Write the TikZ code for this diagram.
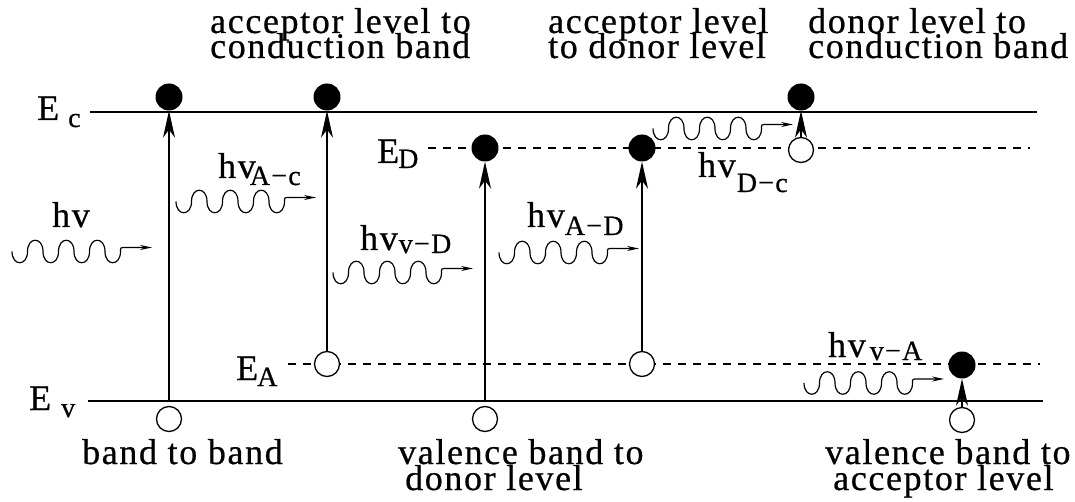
\documentclass[tikz,border=0pt]{standalone}
\usepackage{fontspec}
\setmainfont[LetterSpace=4.5,FakeBold=0.6]{Liberation Serif}
\usetikzlibrary{arrows.meta}
\newcommand\subsz{\fontsize{28}{28}\selectfont}
\newcommand\twoline[3]{\vtop{\baselineskip=#1\lineskiplimit=-60pt\lineskip=0pt\hbox{#2}\hbox{#3}}}
\newcommand\hvl[3]{hv\kern#1pt\raisebox{-#2pt}{\subsz #3}}
\newcommand\elv[3]{E\kern#1pt\raisebox{-#2pt}{\subsz #3}}
\tikzset{
  lbl/.style={inner sep=0pt, anchor=base west, font=\fontsize{36}{36}\selectfont},
  band/.style={line width=1.6pt},
  level/.style={line width=1.4pt, dash pattern=on 8pt off 7pt},
  fdot/.style={circle, fill=black, minimum size=27pt, inner sep=0pt},
  odot/.style={circle, draw=black, fill=white, line width=1.3pt, minimum size=25pt, inner sep=0pt},
  trans/.style={line width=1.2pt, -{Stealth[length=27pt,width=12pt,inset=8pt]}},
  photon/.pic={\draw[line width=1.2pt, -{Stealth[length=12pt,width=5pt]}]
    (0,0) .. controls (0,15) and (15.5,15) .. (15.5,0)
    .. controls (15.5,-15) and (31,-15) .. (31,0)
    .. controls (31,15) and (46.5,15) .. (46.5,0)
    .. controls (46.5,-15) and (62,-15) .. (62,0)
    .. controls (62,15) and (77.5,15) .. (77.5,0)
    .. controls (77.5,-15) and (93,-15) .. (93,0)
    .. controls (93,15) and (108.5,15) .. (108.5,0)
    .. controls (108.5,-4) .. (113.5,-4) -- (140,-4);}
}
\begin{document}
\begin{tikzpicture}[x=1pt,y=-1pt]
\useasboundingbox (0,0) rectangle (1075,502);
% bands and levels
\coordinate (ecl) at (90,112); \coordinate (ecr) at (1037,112);
\coordinate (evl) at (88,401); \coordinate (evr) at (1043,401);
\coordinate (edl) at (428,148); \coordinate (edr) at (1030,148);
\coordinate (eal) at (288,364); \coordinate (ear) at (1040,364);
\draw[band] (ecl) -- (ecr);
\draw[band] (evl) -- (evr);
\draw[level] (edl) -- (edr);
\draw[level] (eal) -- (ear);
% level labels
\node[lbl] (ec) at (37,120) {\elv{9}{7}{c}};
\node[lbl] (ev) at (29,410) {\elv{10}{7}{v}};
\node[lbl] (ed) at (377,163) {\elv{-1}{5}{D}};
\node[lbl] (ea) at (236,380) {\elv{-1}{6}{A}};
% carriers
\node[fdot] (f1) at (169,97) {}; \node[odot] (o1) at (169,419) {};
\node[fdot] (f2) at (327,97) {}; \node[odot] (o2) at (327,364) {};
\node[fdot] (f3) at (485,148) {}; \node[odot] (o3) at (485,419) {};
\node[fdot] (f4) at (642,148) {}; \node[odot] (o4) at (642,364) {};
\node[fdot] (f5) at (801,97) {}; \node[odot] (o5) at (801,150) {};
\node[fdot] (f6) at (962,365) {}; \node[odot] (o6) at (962,420) {};
% transitions
\coordinate (v1) at (169,401); \coordinate (v3) at (485,401);
\draw[trans] (v1) -- (f1.south);
\draw[trans] (o2.north) -- (f2.south);
\draw[trans] (v3) -- (f3.south);
\draw[trans] (o4.north) -- (f4.south);
\draw[trans] (o5.north) -- (f5.south);
\draw[trans] (o6.north) -- (f6.south);
% photons
\pic (p0) at (12,251.5) {photon};
\pic (p1) at (176,201.5) {photon};
\pic (p2) at (333,272.5) {photon};
\pic (p3) at (499,252.5) {photon};
\pic (p4) at (653,128.5) {photon};
\pic (p5) at (804,383) {photon};
% photon labels
\node[lbl] (h0) at (52,227) {hv};
\node[lbl] (h1) at (218,178) {\hvl{-6}{7}{A−c}};
\node[lbl] (h2) at (360,250) {\hvl{1}{3}{v−D}};
\node[lbl] (h3) at (527,227) {\hvl{0}{8}{A−D}};
\node[lbl] (h4) at (698,177) {\hvl{1}{15}{D−c}};
\node[lbl] (h5) at (828,357) {\hvl{4}{3}{v−A}};
% captions
\node[lbl] (t1) at (210,33) {\twoline{25pt}{acceptor level to}{conduction band}};
\node[lbl] (t2) at (548,33) {\twoline{25pt}{acceptor level}{to donor level}};
\node[lbl] (t3) at (808,33) {\twoline{25pt}{donor level to}{conduction band}};
\node[lbl] (b1) at (82,464) {band to band};
\node[lbl] (b2) at (398,464) {\twoline{26pt}{valence band to}{\hspace*{7pt}donor level}};
\node[lbl] (b3) at (825,464) {\twoline{26pt}{valence band to}{\hspace*{8pt}acceptor level}};
\end{tikzpicture}
\end{document}
